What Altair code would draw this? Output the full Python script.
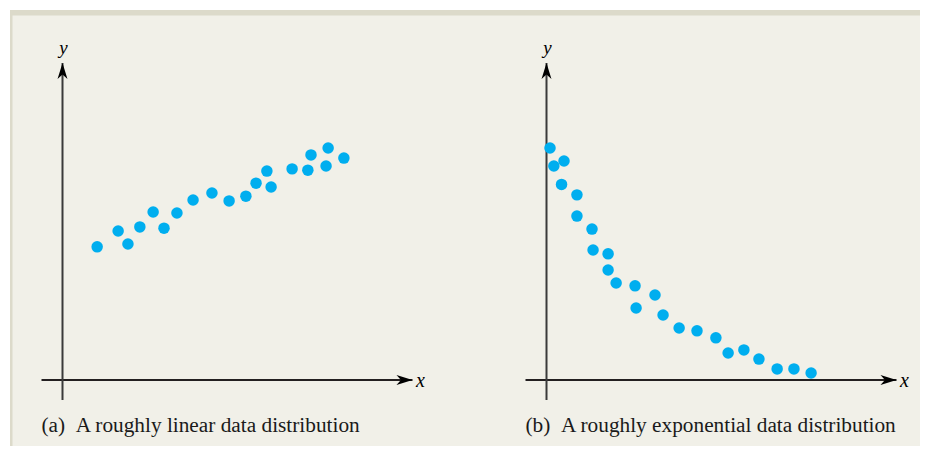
import altair as alt
import pandas as pd

# ---- data (axis units: origin at the axes crossing) ----
# (a) roughly linear distribution
lin_x = [0.99, 1.59, 1.87, 2.21, 2.59, 2.90, 3.27, 3.73, 4.27, 4.76,
         5.24, 5.53, 5.84, 5.96, 6.56, 7.01, 7.10, 7.53, 7.59, 8.04]
lin_y = [4.20, 4.70, 4.29, 4.83, 5.30, 4.79, 5.27, 5.68, 5.90, 5.65,
         5.80, 6.21, 6.59, 6.09, 6.66, 6.62, 7.10, 6.75, 7.32, 7.00]

# (b) roughly exponential distribution
exp_x = [0.10, 0.21, 0.50, 0.43, 0.87, 0.87, 1.30, 1.33, 1.76, 1.76, 1.99, 2.53,
         3.10, 2.56, 3.33, 3.79, 4.30, 4.84, 5.19, 5.64, 6.07, 6.59, 7.07, 7.56]
exp_y = [7.32, 6.75, 6.91, 6.17, 5.84, 5.17, 4.76, 4.10, 3.98, 3.47, 3.06, 2.97,
         2.68, 2.27, 2.05, 1.64, 1.55, 1.33, 0.85, 0.95, 0.66, 0.35, 0.35, 0.22]

captions = ["(a)\u2002A roughly linear data distribution",
            "(b)\u2002A roughly exponential data distribution"]
axis_names = ["x", "y"]

# axis extents (in axis units)
x_axis_from, x_axis_to = -0.6, 10.0
y_axis_from, y_axis_to = -0.63, 10.0

# ---- layout constants ----
PX_X = 35.0      # px per x unit
PX_Y = 31.7      # px per y unit
ORIGIN_Y_PAGE = 380.0
TOP_PAGE, BOTTOM_PAGE = 10.0, 446.0
HEIGHT = BOTTOM_PAGE - TOP_PAGE

BEIGE = "#f1f0e8"
BAND = "#dcdaca"
DOT = "#00aeef"
INK = "#231f20"
SERIF = "Liberation Serif"

ARROW_RIGHT = "M0,0 L-2,-0.62 L-1.45,0 L-2,0.62 Z"
ARROW_UP = "M0,0 L-0.62,2 L0,1.45 L0.62,2 Z"

y_dom = [(ORIGIN_Y_PAGE - BOTTOM_PAGE) / PX_Y, (ORIGIN_Y_PAGE - TOP_PAGE) / PX_Y]


def panel(xs, ys, caption, left_page, right_page, origin_x_page, left_band):
    width = right_page - left_page
    x_dom = [(left_page - origin_x_page) / PX_X, (right_page - origin_x_page) / PX_X]
    xs_ = alt.Scale(domain=x_dom, nice=False, zero=False)
    ys_ = alt.Scale(domain=y_dom, nice=False, zero=False)

    def X(f="x"):
        return alt.X(f"{f}:Q", scale=xs_, axis=None)

    def Y(f="y"):
        return alt.Y(f"{f}:Q", scale=ys_, axis=None)

    one = pd.DataFrame({"a": [0]})
    layers = []

    # decorative top band (and left band on the first panel)
    layers.append(alt.Chart(one).mark_rect(color=BAND).encode(
        x=alt.value(0), x2=alt.value(width), y=alt.value(0), y2=alt.value(5.5)))
    if left_band:
        layers.append(alt.Chart(one).mark_rect(color=BAND).encode(
            x=alt.value(0), x2=alt.value(2.5), y=alt.value(0), y2=alt.value(HEIGHT)))

    # axes
    xa = pd.DataFrame({"x": [x_axis_from], "x2": [x_axis_to], "y": [0.0]})
    ya = pd.DataFrame({"x": [0.0], "y": [y_axis_from], "y2": [y_axis_to]})
    layers.append(alt.Chart(xa).mark_rule(color=INK, strokeWidth=1.8).encode(
        x=X(), x2="x2:Q", y=Y()))
    layers.append(alt.Chart(ya).mark_rule(color="#3a3a3a", strokeWidth=2).encode(
        x=X(), y=Y(), y2="y2:Q"))

    # arrow heads
    layers.append(alt.Chart(pd.DataFrame({"x": [x_axis_to], "y": [0.0]})).mark_point(
        shape=ARROW_RIGHT, size=256, filled=True, color="black", opacity=1, strokeWidth=0
    ).encode(x=X(), y=Y()))
    layers.append(alt.Chart(pd.DataFrame({"x": [0.0], "y": [y_axis_to]})).mark_point(
        shape=ARROW_UP, size=256, filled=True, color="black", opacity=1, strokeWidth=0
    ).encode(x=X(), y=Y()))

    # axis names
    layers.append(alt.Chart(pd.DataFrame({"x": [x_axis_to], "y": [0.0], "t": [axis_names[0]]}))
                  .mark_text(font=SERIF, fontStyle="italic", fontSize=20, align="left",
                             baseline="alphabetic", dx=3.5, dy=6.5, color="black")
                  .encode(x=X(), y=Y(), text="t:N"))
    layers.append(alt.Chart(pd.DataFrame({"x": [0.0], "y": [y_axis_to], "t": [axis_names[1]]}))
                  .mark_text(font=SERIF, fontStyle="italic", fontSize=19, align="center",
                             baseline="alphabetic", dx=1, dy=-9, color="black")
                  .encode(x=X(), y=Y(), text="t:N"))

    # data points
    pts = pd.DataFrame({"x": xs, "y": ys})
    layers.append(alt.Chart(pts).mark_circle(size=132, color=DOT, opacity=1).encode(
        x=X(), y=Y()))

    # caption
    cap = pd.DataFrame({"x": [x_axis_from], "y": [0.0], "t": [caption]})
    layers.append(alt.Chart(cap).mark_text(font=SERIF, fontSize=21.3, align="left",
                                           baseline="alphabetic", dy=52, color="#1a1a1a")
                  .encode(x=X(), y=Y(), text="t:N"))

    return alt.layer(*layers).properties(width=width, height=HEIGHT)


p1 = panel(lin_x, lin_y, captions[0], 10.0, 464.0, 62.5, True)
p2 = panel(exp_x, exp_y, captions[1], 464.0, 920.0, 546.5, False)

chart = alt.hconcat(p1, p2, spacing=0, bounds="flush").properties(
    padding={"left": 2, "top": 2, "right": 0, "bottom": 0},
    background="white",
).configure_view(stroke=None, fill=BEIGE)

chart.save("out.html", embed_options={"renderer": "svg", "actions": False})
